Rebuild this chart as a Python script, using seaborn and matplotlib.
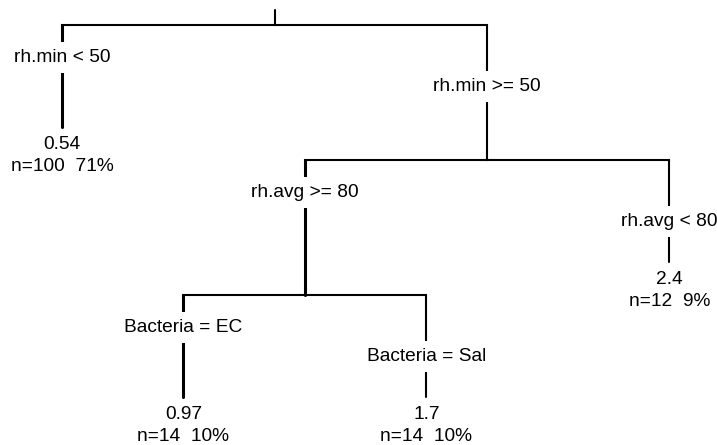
import matplotlib
matplotlib.use("Agg")
import matplotlib.pyplot as plt
import seaborn as sns
import pandas as pd
import numpy as np

# ---- tree data (rpart-style regression tree) ----
node_ids = [0, 1, 2, 3, 4, 5, 6]
parent = [-1, 0, 0, 2, 2, 3, 3]
is_left = [False, True, False, True, False, True, False]
node_depth_y = [1.0, 0.726, 0.637, 0.274, 0.363, 0.0, 0.0]  # deviance-based heights
split_labels = ["", "rh.min < 50", "rh.min >= 50", "rh.avg >= 80",
                "rh.avg < 80", "Bacteria = EC", "Bacteria = Sal"]
leaf_nodes = [1, 5, 6, 4]
leaf_pos = [1.0, 1.5, 2.5, 3.5]
leaf_yval = ["0.54", "0.97", "1.7", "2.4"]
leaf_n = [100, 14, 14, 12]
leaf_pct = [71, 10, 10, 9]

# ---- layout: internal nodes at midpoint of children ----
xpos = {n: None for n in node_ids}
for n, p in zip(leaf_nodes, leaf_pos):
    xpos[n] = p
children = {n: [c for c in node_ids if parent[c] == n] for n in node_ids}
def get_x(n):
    if xpos[n] is None:
        xs = [get_x(c) for c in children[n]]
        xpos[n] = sum(xs) / len(xs)
    return xpos[n]
for n in node_ids:
    get_x(n)

sns.set_theme(style="white")
plt.rcParams["font.family"] = ["Liberation Sans", "DejaVu Sans"]
plt.rcParams["text.color"] = "black"

fig = plt.figure(figsize=(7.17, 4.45), dpi=100)
ax = fig.add_axes([0, 0, 1, 1])
ax.set_xlim(0.7449, 3.6955)
ax.set_ylim(-0.129, 1.0672)
ax.axis("off")

# branch segments
rows = []
for c in node_ids:
    p = parent[c]
    if p < 0:
        continue
    for k, (xx, yy) in enumerate([(xpos[p], node_depth_y[p]),
                                  (xpos[c], node_depth_y[p]),
                                  (xpos[c], node_depth_y[c])]):
        rows.append(dict(edge=c, order=k, x=xx, y=yy, left=is_left[c]))
seg = pd.DataFrame(rows)

# horizontal parts
hz = seg[seg.order < 2]
sns.lineplot(data=hz, x="x", y="y", units="edge", estimator=None, sort=False,
             color="black", lw=1.5, ax=ax, legend=False, solid_capstyle="projecting")
vt = seg[seg.order >= 1]
sns.lineplot(data=vt[vt.left], x="x", y="y", units="edge", estimator=None, sort=False,
             color="black", lw=2.2, ax=ax, legend=False)
sns.lineplot(data=vt[~vt.left], x="x", y="y", units="edge", estimator=None, sort=False,
             color="black", lw=1.5, ax=ax, legend=False)
# root stub
ax.plot([xpos[0], xpos[0]], [node_depth_y[0], node_depth_y[0] + 0.04], color="black", lw=1.5)

FS = 13.8
# split labels with white background (interrupt branches)
for c in node_ids:
    p = parent[c]
    if p < 0:
        continue
    off = 0.087 if is_left[c] else 0.165
    ax.text(xpos[c], node_depth_y[p] - off, split_labels[c], ha="center", va="center",
            fontsize=FS, color="black",
            bbox=dict(boxstyle="square,pad=0.35", fc="white", ec="none"))

# leaf labels
for n, v, cnt, pc in zip(leaf_nodes, leaf_yval, leaf_n, leaf_pct):
    ax.text(xpos[n], node_depth_y[n] - 0.046, v, ha="center", va="center",
            fontsize=FS, color="black")
    ax.text(xpos[n], node_depth_y[n] - 0.106, f"n={cnt}  {pc}%", ha="center", va="center",
            fontsize=FS, color="black")

ax.set_xlabel("")
ax.set_ylabel("")
fig.savefig("out.png", dpi=100, facecolor="white")
